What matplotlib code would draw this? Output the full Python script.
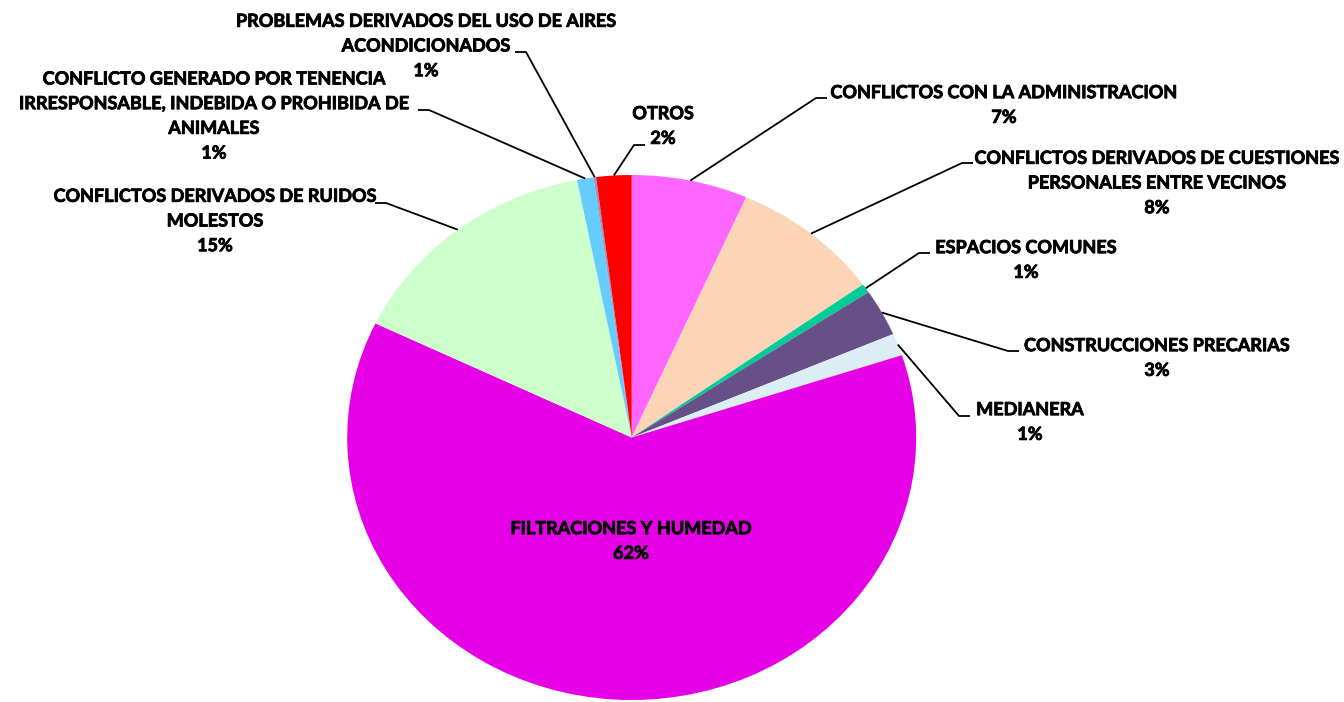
"""
Pie chart of neighbourhood conflict categories with leader-line labels.
"""
import matplotlib
matplotlib.use("Agg")
import matplotlib.pyplot as plt
import matplotlib.patheffects as pe
import numpy as np

# slices, clockwise from 12 o'clock
categories = [
    "CONFLICTOS CON LA ADMINISTRACION",
    "CONFLICTOS DERIVADOS DE CUESTIONES\nPERSONALES ENTRE VECINOS",
    "ESPACIOS COMUNES",
    "CONSTRUCCIONES PRECARIAS",
    "MEDIANERA",
    "FILTRACIONES Y HUMEDAD",
    "CONFLICTOS DERIVADOS DE RUIDOS\nMOLESTOS",
    "CONFLICTO GENERADO POR TENENCIA\nIRRESPONSABLE, INDEBIDA O PROHIBIDA DE\nANIMALES",
    "PROBLEMAS DERIVADOS DEL USO DE AIRES\nACONDICIONADOS",
    "OTROS",
]
values = [6.6, 8.5, 0.56, 2.9, 1.37, 62.25, 14.77, 0.93, 0.15, 2.0]
pct_labels = ["7%", "8%", "1%", "3%", "1%", "62%", "15%", "1%", "1%", "2%"]
colors = ["#FF66FF", "#FBD5B5", "#00CC99", "#675087", "#DAEEF3",
          "#E600E6", "#CCFFCC", "#66CCFF", "#9A9AC0", "#FF0000"]

# layout (figure pixels): label block centre, end of leader line next to text
label_pos = [(1004, 105), (1157, 183), (1026, 260), (1157, 358), (1030, 422),
             (631, 541), (215, 221), (214, 116), (426, 46), (663, 126)]
leader_end = [(827, 98), (973, 163), (930, 253), (1019, 351), (970, 416),
              None, (375, 203), (418, 110), (515, 52), (645, 145)]

W, H = 1344, 702
CX, CY, RX, RY = 631.7, 437.5, 284.5, 262.5


def px(x, y):
    return (x - CX) / RX, (CY - y) / RY


def main():
    fig = plt.figure(figsize=(W / 100, H / 100), dpi=100)
    ax = fig.add_axes([0, 0, 1, 1])
    wedges, _ = ax.pie(values, colors=colors, startangle=90, counterclock=False,
                       radius=1, wedgeprops=dict(linewidth=0))
    ax.set_aspect("auto")
    ax.set_xlim(px(0, 0)[0], px(W, 0)[0])
    ax.set_ylim(px(0, H)[1], px(0, 0)[1])
    ax.axis("off")

    heavy = [pe.withStroke(linewidth=0.6, foreground="black")]
    for w, cat, pct, lp, le in zip(wedges, categories, pct_labels, label_pos, leader_end):
        tx, ty = px(*lp)
        ax.text(tx, ty, cat + "\n" + pct, ha="center", va="center",
                multialignment="center", fontsize=13, fontweight="bold",
                family=["Lato", "DejaVu Sans"], linespacing=1.55,
                path_effects=heavy)
        if le is None:
            continue
        mid = np.deg2rad((w.theta1 + w.theta2) / 2)
        sx, sy = np.cos(mid), np.sin(mid)
        ex, ey = px(*le)
        direction = 1 if le[0] > CX else -1
        kx, ky = px(le[0] - direction * 11, le[1])
        ax.plot([sx, kx, ex], [sy, ky, ey], color="black", lw=1.3,
                solid_capstyle="butt")

    fig.savefig("out.png", dpi=100, facecolor="white")


if __name__ == "__main__":
    main()
